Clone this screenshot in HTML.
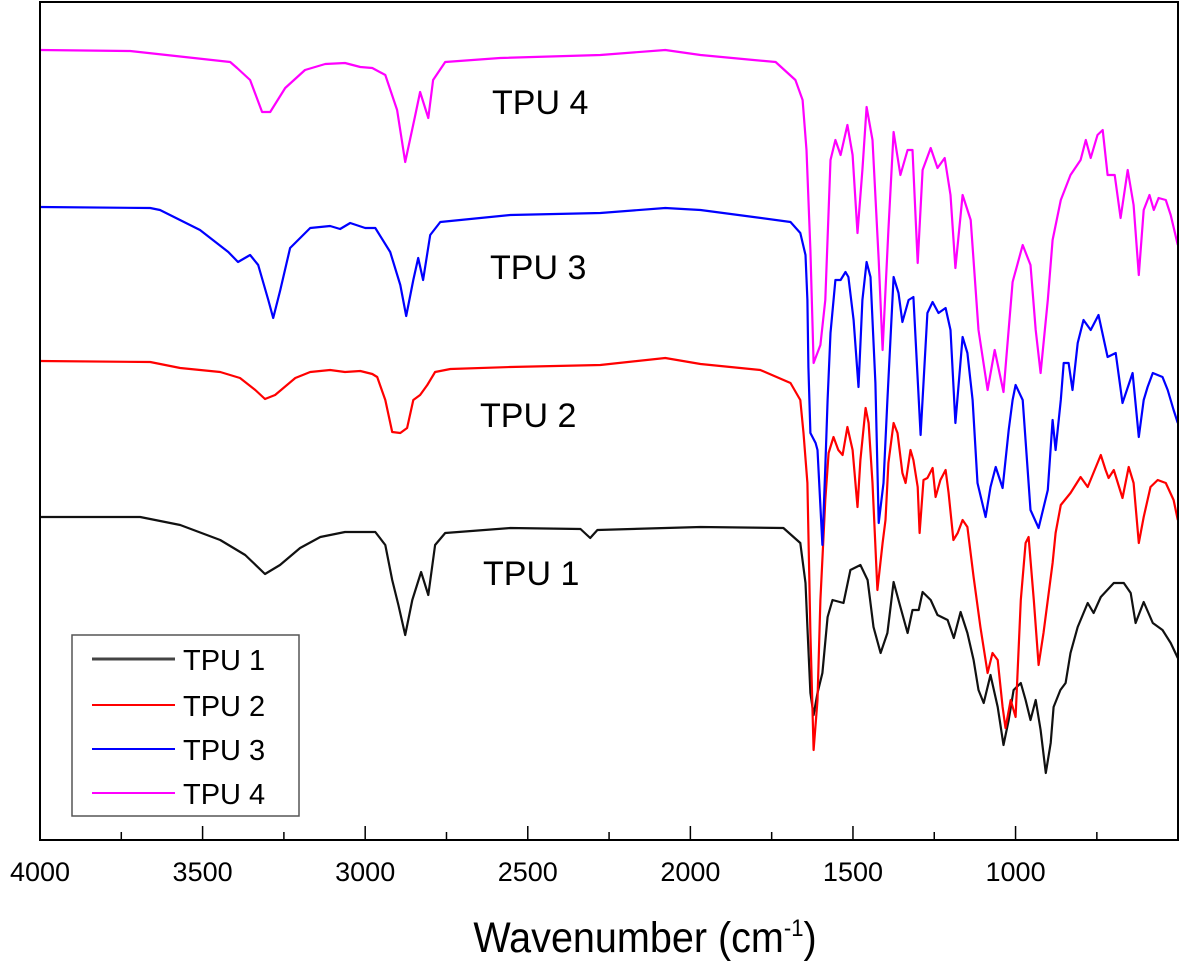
<!DOCTYPE html>
<html><head><meta charset="utf-8"><style>
html,body{margin:0;padding:0;background:#fff;}
svg{display:block;font-family:"Liberation Sans",Arial,sans-serif;}
</style></head><body>
<svg id="chart" width="1181" height="963" viewBox="0 0 1181 963" xmlns="http://www.w3.org/2000/svg">
<rect x="0" y="0" width="1181" height="963" fill="#fff"/>
<g id="series"></g>
<rect x="40" y="2" width="1138" height="838" fill="none" stroke="#000" stroke-width="2"/>
<g id="axis"></g>
<text x="492" y="114" font-size="34">TPU 4</text>
<text x="490" y="279" font-size="34">TPU 3</text>
<text x="480" y="427" font-size="34">TPU 2</text>
<text x="483" y="585" font-size="34">TPU 1</text>
<text transform="translate(645,952) scale(0.92,1)" x="0" y="0" font-size="43" text-anchor="middle">Wavenumber (cm<tspan dy="-16" font-size="24">-1</tspan><tspan dy="16">)</tspan></text>
<g>
<rect x="72" y="635" width="227" height="181" fill="#fff" stroke="#555" stroke-width="1.5"/>
<line x1="92" y1="659" x2="175" y2="659" stroke="#444" stroke-width="3"/>
<text x="183" y="670" font-size="29">TPU 1</text>
<line x1="92" y1="705" x2="175" y2="705" stroke="#ff0000" stroke-width="2"/>
<text x="183" y="716" font-size="29">TPU 2</text>
<line x1="92" y1="749" x2="175" y2="749" stroke="#0000ff" stroke-width="2"/>
<text x="183" y="760" font-size="29">TPU 3</text>
<line x1="92" y1="793" x2="175" y2="793" stroke="#ff00ff" stroke-width="2"/>
<text x="183" y="804" font-size="29">TPU 4</text>
</g>
</svg>
<script>
const xTicks = [4000, 3500, 3000, 2500, 2000, 1500, 1000];
const xMinorTicks = [3750, 3250, 2750, 2250, 1750, 1250, 750];
const tpu1W = [4000,3692,3569,3446,3369,3308,3262,3200,3138,3062,2969,2938,2917,2898,2877,2855,2828,2806,2785,2754,2554,2338,2308,2286,1969,1714,1662,1646,1640,1631,1621,1609,1594,1578,1563,1529,1508,1477,1455,1437,1415,1394,1375,1354,1332,1317,1298,1286,1261,1240,1209,1190,1169,1148,1129,1114,1098,1077,1055,1037,1021,1006,984,969,954,938,923,907,892,883,862,846,831,809,778,760,738,698,667,646,631,606,578,548,523,501];
const tpu1V = [323,323,315,300,285,266,275,292,303,308,308,295,260,235,205,240,268,245,295,307,312,311,302,310,313,312,297,257,213,147,125,147,167,223,240,237,270,275,260,213,187,207,258,233,207,230,230,248,240,225,220,202,228,207,180,150,137,165,133,95,120,150,157,140,120,140,110,67,97,133,150,157,187,213,237,227,243,257,257,247,217,238,217,210,197,182];
const tpu2W = [4000,3661,3569,3446,3385,3338,3308,3277,3215,3169,3108,3062,3015,2978,2963,2938,2917,2892,2871,2852,2831,2809,2785,2738,2554,2277,2077,1969,1785,1692,1662,1652,1640,1631,1621,1609,1600,1585,1575,1560,1545,1532,1517,1501,1486,1477,1461,1452,1440,1425,1409,1400,1391,1375,1363,1348,1338,1323,1314,1301,1295,1283,1271,1255,1246,1231,1215,1206,1191,1178,1163,1148,1129,1108,1086,1071,1055,1040,1031,1015,1000,984,969,960,944,929,914,886,877,861,831,800,778,763,738,723,714,698,671,652,637,621,606,585,563,538,514,501];
const tpu2V = [479,478,472,468,462,450,441,445,462,468,470,468,469,466,463,440,408,407,412,440,445,455,468,471,473,475,482,476,470,457,440,407,357,207,90,140,240,340,387,403,390,385,413,390,333,380,432,417,357,250,297,320,377,417,407,367,357,390,380,353,307,360,362,372,343,360,370,347,300,307,320,313,263,213,167,187,180,133,112,140,123,240,297,303,240,175,207,277,307,335,347,363,353,365,385,370,362,370,342,373,357,297,323,353,360,357,340,320];
const tpu3W = [4000,3661,3631,3508,3421,3391,3354,3329,3298,3283,3261,3231,3169,3108,3077,3046,3000,2969,2923,2892,2874,2852,2837,2822,2800,2769,2554,2277,2077,1969,1806,1692,1662,1646,1640,1637,1631,1615,1609,1594,1585,1578,1569,1554,1538,1523,1514,1498,1483,1471,1458,1446,1431,1421,1406,1394,1375,1360,1348,1329,1314,1292,1271,1255,1237,1215,1200,1185,1163,1148,1132,1117,1092,1077,1061,1040,1021,1009,1000,978,954,929,901,886,877,861,852,837,825,809,791,769,745,717,692,671,640,621,606,594,578,548,532,514,501];
const tpu3V = [633,632,630,610,588,578,585,575,540,522,550,592,612,614,611,617,612,612,588,555,524,560,582,560,605,618,625,627,632,630,623,618,607,585,540,473,407,397,390,295,373,440,507,560,560,568,563,520,453,540,578,563,457,317,357,440,563,547,518,540,543,405,527,538,527,532,510,417,503,487,440,357,323,353,373,352,410,440,455,440,330,312,350,420,390,440,477,477,450,497,520,510,525,483,487,437,467,403,440,453,467,463,450,430,417];
const tpu4W = [4000,3723,3415,3394,3354,3317,3292,3246,3185,3123,3062,3015,2978,2938,2902,2877,2846,2831,2806,2791,2754,2585,2277,2077,1969,1806,1738,1677,1655,1643,1631,1621,1600,1585,1569,1554,1538,1517,1501,1486,1471,1458,1440,1421,1409,1391,1375,1354,1332,1317,1301,1286,1261,1240,1218,1200,1185,1163,1138,1114,1086,1064,1037,1009,978,954,938,923,901,886,861,831,800,784,769,748,732,717,695,677,655,637,621,606,588,575,560,538,523,501];
const tpu4V = [790,789,778,772,760,728,728,752,770,776,777,773,772,765,730,678,725,748,722,760,778,782,785,790,785,780,778,760,740,690,590,477,495,540,680,700,685,715,685,607,670,733,700,580,490,610,708,665,690,690,577,670,692,672,682,645,572,645,620,510,450,490,448,558,595,575,510,467,540,600,640,665,680,700,682,705,710,665,665,622,670,635,565,630,645,630,642,640,625,595];

const X0 = 40, X1 = 1177.5, WMAX = 4000, WMIN = 502;
function xScale(w){ return X0 + (WMAX - w) * (X1 - X0) / (WMAX - WMIN); }
function yScale(v){ return 840 - v; }
const NS = "http://www.w3.org/2000/svg";
const seriesG = document.getElementById('series');
function drawSeries(ws, vs, color, name, width){
  let d = '';
  for (let i = 0; i < ws.length; i++) d += (i ? 'L' : 'M') + xScale(ws[i]).toFixed(1) + ' ' + yScale(vs[i]).toFixed(1);
  const p = document.createElementNS(NS, 'path');
  p.setAttribute('d', d);
  p.setAttribute('fill', 'none');
  p.setAttribute('stroke', color);
  p.setAttribute('stroke-width', width);
  p.setAttribute('stroke-linejoin', 'round');
  
  
  seriesG.appendChild(p);
}
drawSeries(tpu1W, tpu1V, '#111', 'series-tpu1', 2.2);
drawSeries(tpu2W, tpu2V, '#ff0000', 'series-tpu2', 2.2);
drawSeries(tpu3W, tpu3V, '#0000ff', 'series-tpu3', 2.2);
drawSeries(tpu4W, tpu4V, '#ff00ff', 'series-tpu4', 2.2);

const axisG = document.getElementById('axis');
xTicks.forEach(t => {
  const x = xScale(t);
  const l = document.createElementNS(NS, 'line');
  l.setAttribute('x1', x); l.setAttribute('x2', x);
  l.setAttribute('y1', 840); l.setAttribute('y2', 826);
  l.setAttribute('stroke', '#000'); l.setAttribute('stroke-width', 1.5);
  
  
  axisG.appendChild(l);
  const tx = document.createElementNS(NS, 'text');
  tx.setAttribute('x', x); tx.setAttribute('y', 881);
  tx.setAttribute('text-anchor', 'middle'); tx.setAttribute('font-size', '27');
  tx.textContent = t;
  
  
  axisG.appendChild(tx);
});
xMinorTicks.forEach(t => {
  const x = xScale(t);
  const l = document.createElementNS(NS, 'line');
  l.setAttribute('x1', x); l.setAttribute('x2', x);
  l.setAttribute('y1', 840); l.setAttribute('y2', 832);
  l.setAttribute('stroke', '#000'); l.setAttribute('stroke-width', 1.5);
  
  
  axisG.appendChild(l);
});
</script>
</body></html>
